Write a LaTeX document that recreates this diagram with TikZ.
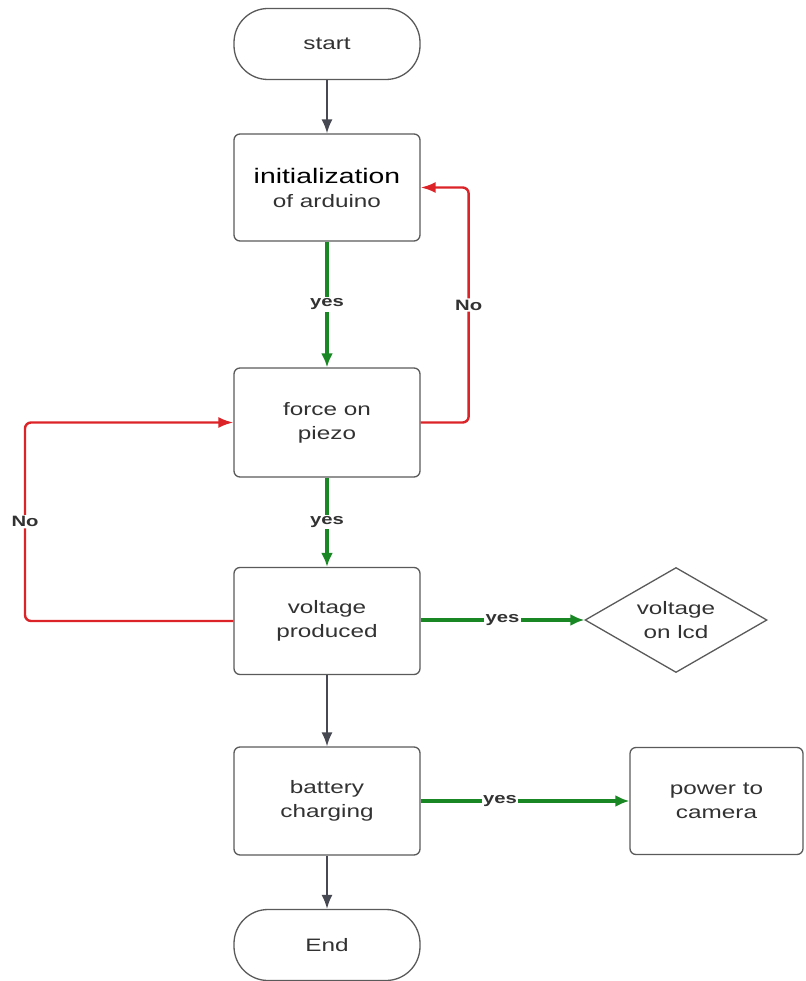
\documentclass[tikz,border=0pt]{standalone}
\usepackage{fontspec}
\setmainfont{Liberation Sans}[FakeStretch=1.35]
\usetikzlibrary{shapes.geometric,arrows.meta}
\definecolor{boxline}{RGB}{90,90,90}
\definecolor{txt}{RGB}{50,50,50}
\definecolor{flowgray}{RGB}{70,72,82}
\definecolor{flowgreen}{RGB}{25,135,35}
\definecolor{flowred}{RGB}{220,35,40}
\begin{document}
\begin{tikzpicture}[x=1pt,y=-1pt,
  proc/.style={draw=boxline, line width=1.3pt, rounded corners=6pt, fill=white,
    minimum width=186pt, minimum height=107pt, align=center, text=txt,
    font=\fontsize{18}{24}\selectfont},
  term/.style={proc, rounded corners=34pt, minimum height=71pt},
  dec/.style={draw=boxline, line width=1.3pt, shape=diamond, inner sep=0pt,
    shape aspect=1.73, minimum width=182pt, minimum height=105pt, align=center,
    text=txt, font=\fontsize{18}{24}\selectfont},
  lbl/.style={fill=white, text=txt, inner sep=1.5pt, font=\fontsize{15}{17}\selectfont\bfseries},
  grayarrow/.style={draw=flowgray, line width=1.8pt, -{Latex[length=14pt,width=11pt]}},
  greenarrow/.style={draw=flowgreen, line width=3.2pt, -{Latex[length=14pt,width=12pt]}},
  redarrow/.style={draw=flowred, line width=2.4pt, rounded corners=6pt, -{Latex[length=15pt,width=11pt]}}
]
\useasboundingbox (0,0) rectangle (805,981);

\node[term] (start) at (327,44) {start};
\node[proc] (init) at (327,187.5) {{\fontsize{21}{24}\selectfont\color{black}initialization}\\of arduino};
\node[proc, minimum height=109pt] (force) at (327,422.5) {force on\\piezo};
\node[proc] (volt) at (327,621) {voltage\\produced};
\node[dec] (lcd) at (676,620) {voltage\\on lcd};
\node[proc, minimum height=108pt] (batt) at (327,801) {battery\\charging};
\node[proc, minimum width=173pt] (cam) at (716.5,801) {power to\\camera};
\node[term] (end) at (327,945) {End};

\draw[grayarrow] (start.south) -- (init.north);
\draw[greenarrow] (init.south) -- node[lbl]{yes} (force.north);
\draw[redarrow] (force.east) -- ++(48,0) |- node[lbl, pos=0.25]{No} (init.east);
\draw[greenarrow] (force.south) -- node[lbl]{yes} (volt.north);
\draw[redarrow] (volt.west) -- (25,621) |- node[lbl, pos=0.25]{No} (force.west);
\draw[greenarrow] (volt.east |- lcd.west) -- node[lbl]{yes} (lcd.west);
\draw[grayarrow] (volt.south) -- (batt.north);
\draw[greenarrow] (batt.east) -- node[lbl, pos=0.38]{yes} (cam.west);
\draw[grayarrow] (batt.south) -- (end.north);
\end{tikzpicture}
\end{document}
